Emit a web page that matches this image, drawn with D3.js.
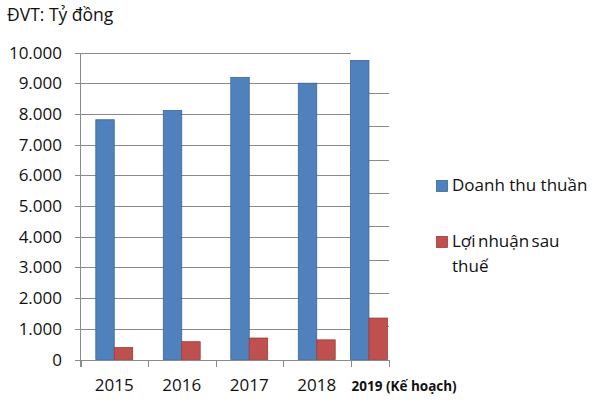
<!DOCTYPE html>
<html>
<head>
<meta charset="utf-8">
<script src="https://cdn.jsdelivr.net/npm/d3@7"></script>
<style>
  html, body { margin: 0; padding: 0; background: #fff; }
  svg { display: block; font-family: "Open Sans", sans-serif; }
</style>
</head>
<body>
<svg id="chart" width="600" height="400"></svg>
<script>
// ---- data ----
const categories = ["2015", "2016", "2017", "2018", "2019 (Kế hoạch)"];
const seriesNames = ["Doanh thu thuần", "Lợi nhuận sau thuế"];
const revenue = [7810, 8110, 9190, 9000, 9740];
const profit = [390, 580, 700, 640, 1350];
const yTicks = [0, 1000, 2000, 3000, 4000, 5000, 6000, 7000, 8000, 9000, 10000];
// gridlines of the pasted-in 2019 panel (its own scale)
const planGridTicks = [1000, 2000, 3000, 4000, 5000, 6000, 7000, 8000];
const unitLabel = "ĐVT: Tỷ đồng";

const colors = ["#4F81BD", "#C0504D"];
const strokes = ["#3B6699", "#9A3D3A"];

const svg = d3.select("#chart");
const locale = d3.formatLocale({decimal: ",", thousands: ".", grouping: [3], currency: ["", ""]});
const fmt = locale.format(",");

const y = d3.scaleLinear().domain([0, 10000]).range([359.5, 52.5]);
const y2 = d3.scaleLinear().domain([0, 8000]).range([359.5, 93]);
const x = d3.scaleBand().domain(categories).range([80.5, 418]).paddingInner(0).paddingOuter(0);
const bw = x.bandwidth();
const x1 = d3.scaleBand().domain(seriesNames).range([15.3, bw - 15.3]).padding(0);
const lastCat = categories[categories.length - 1];
const shiftFor = c => c === lastCat ? -x1(seriesNames[0]) : 0;
const gx = c => x(c) + shiftFor(c);
const plotEnd = x(lastCat) + 2 * x1.bandwidth() + 2;

const gridColor = "#8a8a8a";

// main gridlines (stop at the 2019 panel)
svg.append("g").selectAll("line").data(yTicks).join("line")
  .attr("x1", 75).attr("x2", x(lastCat))
  .attr("y1", d => Math.round(y(d)) + 0.5).attr("y2", d => Math.round(y(d)) + 0.5)
  .attr("stroke", gridColor).attr("stroke-width", 1).attr("shape-rendering", "crispEdges");

// 2019 panel gridlines
svg.append("g").selectAll("line").data(planGridTicks).join("line")
  .attr("x1", x(lastCat)).attr("x2", plotEnd)
  .attr("y1", d => Math.round(y2(d)) + 0.5).attr("y2", d => Math.round(y2(d)) + 0.5)
  .attr("stroke", gridColor).attr("stroke-width", 1).attr("shape-rendering", "crispEdges");

// y axis labels
svg.append("g").selectAll("text").data(yTicks).join("text")
  .attr("x", 62).attr("y", d => y(d) + 6)
  .attr("text-anchor", "end")
  .attr("font-size", 17).attr("fill", "#111")
  .text(d => fmt(d));

// bars
const groups = svg.append("g").selectAll("g").data(categories).join("g")
  .attr("transform", c => `translate(${gx(c)},0)`);
const vals = [revenue, profit];
groups.selectAll("rect").data((c, i) => seriesNames.map((s, k) => ({s, k, v: vals[k][i]})))
  .join("rect")
  .attr("x", d => x1(d.s))
  .attr("width", x1.bandwidth())
  .attr("y", d => y(d.v))
  .attr("height", d => y(0) - y(d.v))
  .attr("fill", d => colors[d.k])
  .attr("stroke", d => strokes[d.k]).attr("stroke-width", 0.8);

// y axis line
svg.append("line").attr("x1", 80.5).attr("x2", 80.5).attr("y1", y(10000)).attr("y2", 367)
  .attr("stroke", gridColor).attr("shape-rendering", "crispEdges");
// x axis line
svg.append("line").attr("x1", 75).attr("x2", plotEnd).attr("y1", Math.round(y(0)) + 0.5).attr("y2", Math.round(y(0)) + 0.5)
  .attr("stroke", gridColor).attr("shape-rendering", "crispEdges");
// category ticks
const tickXs = categories.map(c => x(c)).concat([plotEnd]);
svg.append("g").selectAll("line").data(tickXs).join("line")
  .attr("x1", d => Math.round(d) + 0.5).attr("x2", d => Math.round(d) + 0.5)
  .attr("y1", y(0)).attr("y2", 367)
  .attr("stroke", gridColor).attr("shape-rendering", "crispEdges");

// category labels
svg.append("g").selectAll("text").data(categories).join("text")
  .attr("x", c => c === lastCat ? x(c) + 1 : x(c) + bw / 2)
  .attr("y", 391)
  .attr("text-anchor", c => c === lastCat ? "start" : "middle")
  .attr("font-size", c => c === lastCat ? 13.5 : 17)
  .attr("font-weight", c => c === lastCat ? "bold" : "normal")
  .attr("fill", "#111")
  .text(c => c);

// unit label
svg.append("text").attr("x", 7).attr("y", 21).attr("font-size", 17.5).attr("fill", "#111").text(unitLabel);

// legend
const legendRows = [
  {k: 0, lines: ["Doanh thu thuần"], y: 191, ws: 0},
  {k: 1, lines: ["Lợi nhuận sau", "thuế"], y: 247, ws: -2}
];
const lg = svg.append("g");
legendRows.forEach(r => {
  lg.append("rect").attr("x", 436.5).attr("y", r.y - 10.5).attr("width", 11).attr("height", 11)
    .attr("fill", colors[r.k]).attr("stroke", strokes[r.k]).attr("stroke-width", 0.8);
  r.lines.forEach((t, j) => {
    lg.append("text").attr("x", 452).attr("y", r.y + j * 25)
      .attr("font-size", 17).attr("word-spacing", r.ws).attr("fill", "#111").text(t);
  });
});
</script>
</body>
</html>
